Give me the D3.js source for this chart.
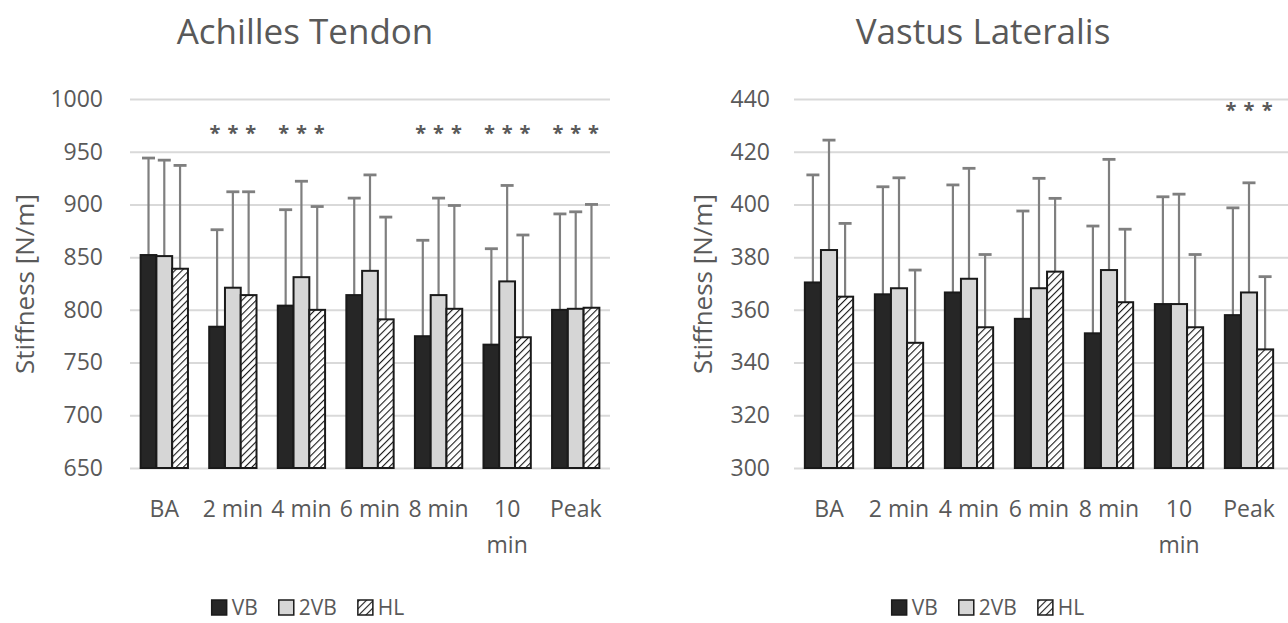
<!DOCTYPE html>
<html><head><meta charset="utf-8">
<script src="https://cdn.jsdelivr.net/npm/d3@7"></script>
<style>
body{margin:0;background:#fff}
text{font-family:"Open Sans",sans-serif;fill:#595959}
</style>
</head><body>
<svg id="chart" width="1288" height="623"></svg>
<script>
// ---------- data ----------
const categories = ["BA", "2 min", "4 min", "6 min", "8 min", "10 min", "Peak"];
const seriesNames = ["VB", "2VB", "HL"];

// Achilles Tendon: means and upper SD (N/m)
const achVB   = [852, 784, 804, 814, 775, 767, 800];
const ach2VB  = [851, 821, 831, 837, 814, 827, 801];
const achHL   = [839, 814, 800, 791, 801, 774, 802];
const achVBsd  = [92, 92, 91, 92, 91, 91, 91];
const ach2VBsd = [91, 91, 91, 91, 92, 91, 92];
const achHLsd  = [98, 98, 98, 97, 98, 97, 98];
const achSig   = [false, true, true, false, true, true, true];
const achTicks = [650, 700, 750, 800, 850, 900, 950, 1000];

// Vastus Lateralis: means and upper SD (N/m)
const vlVB   = [370.4, 365.9, 366.6, 356.6, 351.1, 362.2, 358.0];
const vl2VB  = [382.7, 368.2, 371.8, 368.2, 375.1, 362.2, 366.6];
const vlHL   = [365.0, 347.5, 353.4, 374.5, 362.9, 353.4, 345.0];
const vlVBsd  = [40.8, 40.8, 40.8, 40.9, 40.7, 40.7, 40.7];
const vl2VBsd = [41.7, 41.9, 41.9, 41.7, 42.0, 41.7, 41.6];
const vlHLsd  = [27.8, 27.6, 27.6, 27.8, 27.7, 27.6, 27.6];
const vlSig   = [false, false, false, false, false, false, true];
const vlTicks = [300, 320, 340, 360, 380, 400, 420, 440];

// ---------- drawing ----------
const svg = d3.select("#chart");
const defs = svg.append("defs");
const pat = defs.append("pattern")
  .attr("id", "hatch").attr("patternUnits", "userSpaceOnUse")
  .attr("width", 5).attr("height", 5)
  .attr("patternTransform", "rotate(45)");
pat.append("rect").attr("width", 5).attr("height", 5).attr("fill", "#fff");
pat.append("line").attr("x1", 0).attr("y1", 0).attr("x2", 0).attr("y2", 5)
  .attr("stroke", "#1a1a1a").attr("stroke-width", 2.2);

const fills = ["#262626", "#d6d6d6", "url(#hatch)"];

function drawChart(cfg) {
  const g = svg.append("g");
  const x = d3.scaleBand().domain(categories).range([cfg.x0, cfg.x1])
    .paddingInner(0.31).paddingOuter(0.155);
  const xs = d3.scaleBand().domain(seriesNames).range([0, x.bandwidth()]);
  const y = d3.scaleLinear().domain(cfg.domain).range([468, 99]);

  // grid + y labels
  const ya = g.append("g").attr("transform", `translate(${cfg.x0},0)`)
    .call(d3.axisLeft(y).tickValues(cfg.ticks).tickSize(-(cfg.x1 - cfg.x0 + cfg.extra))
      .tickPadding(cfg.pad).tickFormat(d3.format("d")));
  ya.select(".domain").remove();
  ya.selectAll(".tick line").attr("stroke", "#d9d9d9").attr("stroke-width", 2);
  ya.selectAll(".tick text").style("font-size", "23px").attr("fill", "#595959");

  // x labels
  const xa = g.append("g").attr("transform", `translate(0,468)`)
    .call(d3.axisBottom(x).tickSize(0).tickPadding(33));
  xa.select(".domain").remove();
  xa.selectAll(".tick text").style("font-size", "23px").attr("fill", "#595959")
    .each(function (d) {
      const t = d3.select(this);
      const w = this.getComputedTextLength();
      if (w > x.step() - 2) {
        const words = d.split(" ");
        const y0 = t.attr("y");
        t.text(null);
        words.forEach((wd, i) => {
          t.append("tspan").attr("x", 0).attr("y", y0)
            .attr("dy", (0.71 + i * 1.57) + "em").text(wd);
        });
      }
    });

  const data = categories.map((c, i) => ({
    c, i,
    vals: seriesNames.map((s, k) => ({ s, k, v: cfg.series[k][i], sd: cfg.sds[k][i] }))
  }));

  const grp = g.selectAll(".grp").data(data).join("g")
    .attr("transform", d => `translate(${x(d.c)},0)`);

  // error bars (plus only)
  const eb = grp.selectAll(".eb").data(d => d.vals).join("g").attr("class", "eb");
  eb.append("line")
    .attr("x1", d => xs(d.s) + xs.bandwidth() / 2).attr("x2", d => xs(d.s) + xs.bandwidth() / 2)
    .attr("y1", d => y(d.v)).attr("y2", d => y(d.v + d.sd))
    .attr("stroke", "#7f7f7f").attr("stroke-width", 2.2);
  eb.append("line")
    .attr("x1", d => xs(d.s) + xs.bandwidth() / 2 - 6.5).attr("x2", d => xs(d.s) + xs.bandwidth() / 2 + 6.5)
    .attr("y1", d => y(d.v + d.sd)).attr("y2", d => y(d.v + d.sd))
    .attr("stroke", "#7f7f7f").attr("stroke-width", 2.8);

  // bars
  grp.selectAll(".bar").data(d => d.vals).join("rect").attr("class", "bar")
    .attr("x", d => xs(d.s)).attr("width", xs.bandwidth())
    .attr("y", d => y(d.v)).attr("height", d => y(cfg.domain[0]) - y(d.v))
    .attr("fill", d => fills[d.k]).attr("stroke", "#1a1a1a").attr("stroke-width", 2);

  // significance asterisks
  grp.filter(d => cfg.sig[d.i]).selectAll(".ast").data(d => d.vals).join("text")
    .attr("class", "ast")
    .attr("x", d => xs(d.s) + xs.bandwidth() / 2 + (d.k - 1) * 2)
    .attr("y", y(cfg.astV) + 11)
    .attr("text-anchor", "middle").style("font-size", "20px").style("font-weight", "bold")
    .attr("fill", "#333")
    .text("*");

  // title
  g.append("text").attr("x", cfg.titleX).attr("y", 44).attr("text-anchor", "middle")
    .style("font-size", "35px").attr("fill", "#595959").text(cfg.title);

  // y title
  g.append("text").attr("transform", `translate(${cfg.ytX},284) rotate(-90)`)
    .attr("text-anchor", "middle").style("font-size", "26px").attr("fill", "#595959")
    .text("Stiffness [N/m]");

  // legend
  const lg = g.append("g");
  let cx = 0;
  seriesNames.forEach((s, k) => {
    const it = lg.append("g");
    it.append("rect").attr("x", 0).attr("y", 600).attr("width", 15).attr("height", 15)
      .attr("fill", fills[k]).attr("stroke", "#1a1a1a").attr("stroke-width", 1.5);
    const t = it.append("text").attr("x", 20).attr("y", 615).style("font-size", "21px")
      .attr("fill", "#595959").text(s);
    const w = 20 + t.node().getComputedTextLength();
    it.attr("transform", `translate(${cx},0)`);
    cx += w + 21;
  });
  const total = cx - 21;
  lg.attr("transform", `translate(${cfg.legX - total / 2},0)`);
}

drawChart({
  x0: 130, x1: 610, extra: 0, pad: 27, domain: [650, 1000], ticks: achTicks,
  series: [achVB, ach2VB, achHL], sds: [achVBsd, ach2VBsd, achHLsd],
  sig: achSig, astV: 972, title: "Achilles Tendon", titleX: 305, ytX: 34, legX: 308
});
drawChart({
  x0: 794, x1: 1284, extra: 4, pad: 24, domain: [300, 440], ticks: vlTicks,
  series: [vlVB, vl2VB, vlHL], sds: [vlVBsd, vl2VBsd, vlHLsd],
  sig: vlSig, astV: 437.4, title: "Vastus Lateralis", titleX: 983, ytX: 712, legX: 988
});
</script>
</body></html>
